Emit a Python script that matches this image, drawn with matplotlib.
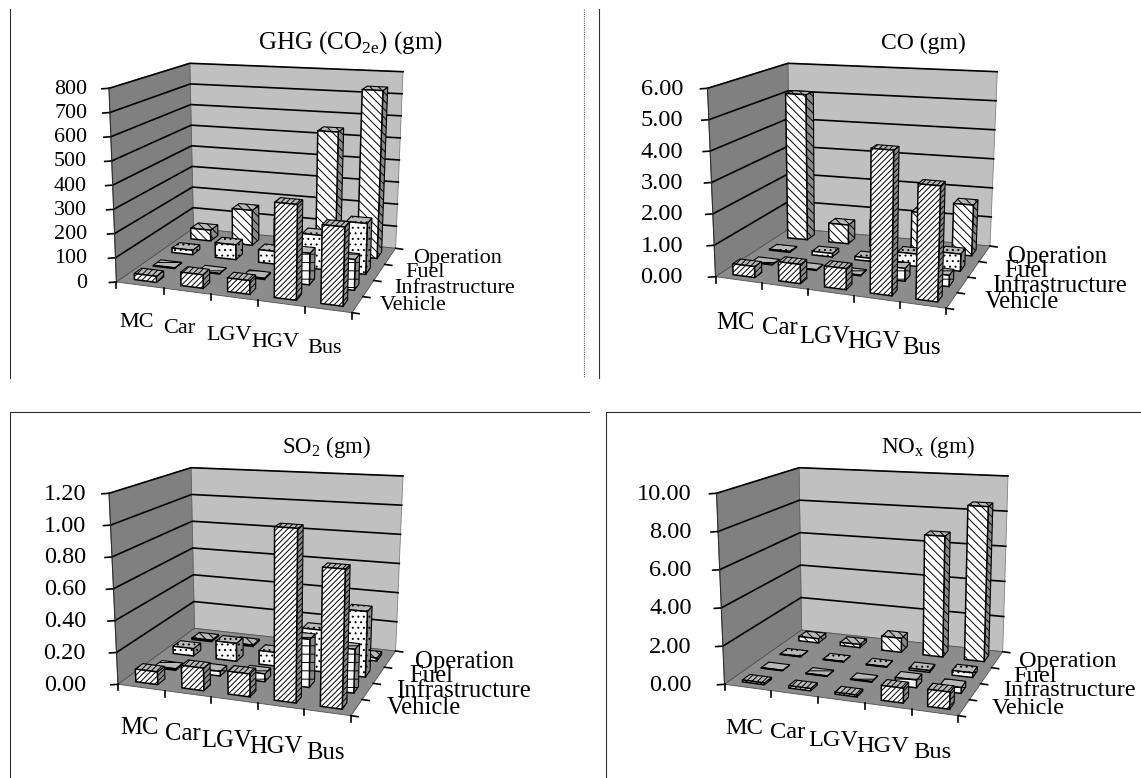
import numpy as np
import matplotlib
matplotlib.use("Agg")
import matplotlib.pyplot as plt
from matplotlib.patches import Polygon

plt.rcParams['font.family'] = ['Liberation Serif', 'DejaVu Serif']
plt.rcParams['mathtext.fontset'] = 'custom'
plt.rcParams['mathtext.rm'] = 'Liberation Serif'
plt.rcParams['hatch.linewidth'] = 0.7

categories = ['MC', 'Car', 'LGV', 'HGV', 'Bus']
rows = ['Vehicle', 'Infrastructure', 'Fuel', 'Operation']

ghg_vehicle = [25, 55, 55, 380, 310]
ghg_infrastructure = [3, 2, 5, 130, 125]
ghg_fuel = [20, 65, 55, 145, 215]
ghg_operation = [50, 160, 130, 545, 740]
ghg_ticks = ['0', '100', '200', '300', '400', '500', '600', '700', '800']

co_vehicle = [0.35, 0.6, 0.65, 4.4, 3.45]
co_infrastructure = [0.02, 0.02, 0.02, 0.4, 0.35]
co_fuel = [0.03, 0.12, 0.1, 0.4, 0.55]
co_operation = [5.1, 0.65, 0.9, 1.3, 1.7]
co_ticks = ['0.00', '1.00', '2.00', '3.00', '4.00', '5.00', '6.00']

so2_vehicle = [0.08, 0.14, 0.14, 1.05, 0.83]
so2_infrastructure = [0.01, 0.03, 0.05, 0.3, 0.27]
so2_fuel = [0.05, 0.12, 0.09, 0.27, 0.42]
so2_operation = [0.01, 0.01, 0.01, 0.02, 0.02]
so2_ticks = ['0.00', '0.20', '0.40', '0.60', '0.80', '1.00', '1.20']

nox_vehicle = [0.1, 0.12, 0.1, 0.75, 0.85]
nox_infrastructure = [0.03, 0.03, 0.03, 0.4, 0.3]
nox_fuel = [0.03, 0.03, 0.03, 0.1, 0.25]
nox_operation = [0.25, 0.18, 0.8, 6.8, 8.6]
nox_ticks = ['0.00', '2.00', '4.00', '6.00', '8.00', '10.00']

HATCHES = ['//////', '--', '...', '\\\\\\\\']
W, H = 1141, 778

fig = plt.figure(figsize=(W / 100, H / 100), dpi=100, facecolor='white')
ax = fig.add_axes([0, 0, 1, 1])
ax.set_xlim(0, W)
ax.set_ylim(H, 0)
ax.axis('off')


def draw_panel(title, series, ticks, ymax, box, tick_x, xlab, rowlab, title_xy, fs_tick, fs_lab, fs_title):
    flb, frb, blb, brb, flt, frt, blt, brt = [np.array(p, float) for p in box]

    def pr(u, v, h):
        fl = (1 - u) * ((1 - v) * flb + v * blb) + u * ((1 - v) * frb + v * brb)
        ce = (1 - u) * ((1 - v) * flt + v * blt) + u * ((1 - v) * frt + v * brt)
        t = h / ymax
        return fl + t * (ce - fl)

    ax.add_patch(Polygon([blb, brb, brt, blt], fc='#c0c0c0', ec='#808080', lw=0.6, zorder=1))
    ax.add_patch(Polygon([flb, blb, blt, flt], fc='#808080', ec='#606060', lw=0.6, zorder=1))
    ax.add_patch(Polygon([flb, frb, brb, blb], fc='#8c8c8c', ec='#505050', lw=0.6, zorder=2))

    tick_vals = np.linspace(0, ymax, len(ticks))
    for val, lab in zip(tick_vals, ticks):
        a, b, c = pr(0, 0, val), pr(0, 1, val), pr(1, 1, val)
        if val > 0:
            ax.plot([a[0], b[0], c[0]], [a[1], b[1], c[1]], color='black', lw=1.2, zorder=3)
        ax.plot([a[0] - 7, a[0]], [a[1] + 0.5, a[1]], color='black', lw=1.2, zorder=3)
        ax.text(tick_x, a[1] + 1, lab, ha='right', va='center', fontsize=fs_tick, zorder=5)
    ax.plot([flb[0], flt[0]], [flb[1], flt[1]], color='#303030', lw=0.8, zorder=3)

    for i in range(6):
        p = pr(i / 5, 0, 0)
        ax.plot([p[0], p[0]], [p[1], p[1] + 6], color='black', lw=1.2, zorder=3)
    for j in range(5):
        p = pr(1, j / 4, 0)
        ax.plot([p[0], p[0] + 7], [p[1], p[1] + 1], color='black', lw=1.2, zorder=3)

    z = 4.0
    bw, bd = 0.095, 0.1
    for j in range(3, -1, -1):
        for i in range(5):
            val = series[j][i]
            u0 = (i + 0.5) / 5 - bw / 2
            u1 = (i + 0.5) / 5 + bw / 2
            v0 = (j + 0.5) / 4 - bd / 2
            v1 = (j + 0.5) / 4 + bd / 2
            top = [pr(u0, v0, val), pr(u1, v0, val), pr(u1, v1, val), pr(u0, v1, val)]
            front = [pr(u0, v0, 0), pr(u1, v0, 0), pr(u1, v0, val), pr(u0, v0, val)]
            side = [pr(u1, v0, 0), pr(u1, v1, 0), pr(u1, v1, val), pr(u1, v0, val)]
            h = HATCHES[j]
            ax.add_patch(Polygon(side, fc='#8a8a8a', ec='black', lw=0.8, hatch=h, zorder=z))
            ax.add_patch(Polygon(top, fc='#b8b8b8', ec='black', lw=0.8, hatch=h, zorder=z + 0.001))
            ax.add_patch(Polygon(front, fc='white', ec='black', lw=1.1, hatch=h, zorder=z + 0.002))
            z += 0.01

    for lab, (x, y) in zip(categories, xlab):
        ax.text(x, y, lab, ha='center', va='center', fontsize=fs_lab, zorder=20)
    for lab, (x, y) in zip(rows, rowlab):
        ax.text(x, y, lab, ha='left', va='center', fontsize=fs_lab, zorder=20)
    ax.text(title_xy[0], title_xy[1], title, ha='center', va='center', fontsize=fs_title, zorder=20)


draw_panel(r'GHG (CO$_{\mathrm{2e}}$) (gm)',
           [ghg_vehicle, ghg_infrastructure, ghg_fuel, ghg_operation], ghg_ticks, 800,
           [(116.4, 282), (352, 312.7), (193.5, 228.3), (395.6, 248.3),
            (109, 88.3), (357, 105), (189.8, 63.3), (403, 71.7)],
           87, [(137, 322), (179, 328), (229, 335), (275, 342), (325, 348)],
           [(380, 305), (394.5, 288), (405, 272), (413, 258)], (351, 43), 15.8, 16, 18)

draw_panel('CO (gm)',
           [co_vehicle, co_infrastructure, co_fuel, co_operation], co_ticks, 6,
           [(715.5, 276.7), (946.4, 308.3), (790, 228.3), (990, 246),
            (707.5, 88.3), (952, 103), (788, 63.3), (997.3, 71.7)],
           683, [(735.5, 323), (780, 328), (824.5, 337), (873.6, 342), (922, 348)],
           [(984.5, 302), (992, 286), (1004.5, 271), (1008, 257)], (923, 43), 17.6, 17.8, 17)

draw_panel(r'SO$_{\mathrm{2}}$ (gm)',
           [so2_vehicle, so2_infrastructure, so2_fuel, so2_operation], so2_ticks, 1.2,
           [(118, 684.3), (351, 715.7), (194.5, 628.3), (395.6, 651),
            (109, 493.3), (356, 510), (191, 467.7), (403, 476)],
           86, [(140, 728), (183, 734), (227, 741), (276, 747), (326, 753)],
           [(387, 708), (396, 691), (409, 676), (414.5, 662)], (327, 447), 17.5, 17.8, 16.5)

draw_panel(r'NO$_{\mathrm{x}}$ (gm)',
           [nox_vehicle, nox_infrastructure, nox_fuel, nox_operation], nox_ticks, 10,
           [(724.5, 684.3), (958.4, 715.7), (801.6, 630), (1002.7, 651.7),
            (716.5, 493.3), (964, 510), (799, 467.7), (1008, 476)],
           692, [(744.5, 728), (788, 733), (833.6, 741), (882.7, 747), (932, 753)],
           [(992, 708), (1002.7, 691), (1013.6, 676), (1019, 662)], (928, 447), 17.6, 17.6, 16.7)

ax.plot([10, 10], [9, 378], color='#303030', lw=0.8)
ax.plot([583.5, 583.5], [9, 378], color='#606060', lw=0.8, ls=(0, (1, 1)))
ax.plot([599, 599], [9, 378], color='#303030', lw=0.8)
ax.plot([10, 10, 589], [778, 412, 412], color='#303030', lw=0.8)
ax.plot([606, 606, 1141], [778, 412, 412], color='#303030', lw=0.8)

fig.savefig('out.png', dpi=100, facecolor='white')
